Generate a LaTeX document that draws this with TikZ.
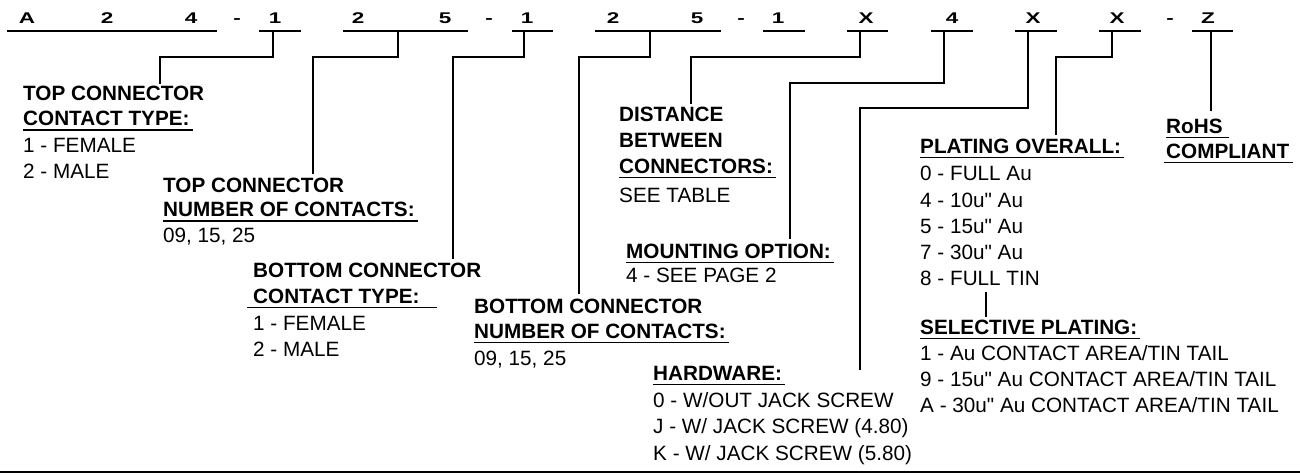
\documentclass[tikz,border=0pt]{standalone}
\usepackage{fontspec}
\setmainfont{Liberation Sans}[Ligatures=TeXOff]
\tikzset{
  lbl/.style={anchor=base west, inner sep=0pt, font=\fontsize{20.7}{26}\selectfont},
  hd/.style={anchor=base west, inner sep=0pt, font=\fontsize{20.7}{26}\selectfont\bfseries},
  code/.style={anchor=base, inner sep=0pt, font=\fontsize{15.5}{18}\selectfont\bfseries},
  ln/.style={line width=1.6pt, line cap=butt},
}
\newcommand\ulin[1]{\draw[ln] ([yshift=-4.5pt]#1.base west) -- ([yshift=-4.5pt,xshift=3pt]#1.base east);}
\newcommand\wide[1]{\scalebox{1.45}[1]{#1}}
\begin{document}
\begin{tikzpicture}[x=1pt,y=-1pt]
\useasboundingbox (0,0) rectangle (1300,474);

% ---- part number row
\node[code] (cA)  at (27,23.5)  {\wide{A}};
\node[code] (c2a) at (107,23.5) {\wide{2}};
\node[code] (c4a) at (191,23.5) {\wide{4}};
\node[code] (d1)  at (237,23.5) {\wide{-}};
\node[code] (c1a) at (275,23.5) {\wide{1}};
\node[code] (c2b) at (358,23.5) {\wide{2}};
\node[code] (c5a) at (445,23.5) {\wide{5}};
\node[code] (d2)  at (489,23.5) {\wide{-}};
\node[code] (c1b) at (527,23.5) {\wide{1}};
\node[code] (c2c) at (613,23.5) {\wide{2}};
\node[code] (c5b) at (697,23.5) {\wide{5}};
\node[code] (d3)  at (741,23.5) {\wide{-}};
\node[code] (c1c) at (778,23.5) {\wide{1}};
\node[code] (cXa) at (866,23.5) {\wide{X}};
\node[code] (c4b) at (952,23.5) {\wide{4}};
\node[code] (cXb) at (1033,23.5) {\wide{X}};
\node[code] (cXc) at (1117,23.5) {\wide{X}};
\node[code] (d4)  at (1170,23.5) {\wide{-}};
\node[code] (cZ)  at (1208,23.5) {\wide{Z}};

\draw[ln] (7,31) -- (217,31);
\draw[ln] (259,31) -- (301,31);
\draw[ln] (343,31) -- (468,31);
\draw[ln] (512,31) -- (553,31);
\draw[ln] (595,31) -- (721,31);
\draw[ln] (763,31) -- (805,31);
\draw[ln] (847,31) -- (888,31);
\draw[ln] (931,31) -- (973,31);
\draw[ln] (1015,31) -- (1057,31);
\draw[ln] (1099,31) -- (1141,31);
\draw[ln] (1192,31) -- (1233,31);

% ---- top connector contact type
\node[hd]  (tct1) at (23,100)   {TOP CONNECTOR};
\node[hd]  (tct2) at (23,125.5) {CONTACT TYPE:};
\node[lbl] (tct3) at (23,152.5) {1 - FEMALE};
\node[lbl] (tct4) at (23,178)   {2 - MALE};
\ulin{tct2}

% ---- top connector number of contacts
\node[hd]  (tnc1) at (163,192)   {TOP CONNECTOR};
\node[hd]  (tnc2) at (163,216.5) {NUMBER OF CONTACTS:};
\node[lbl] (tnc3) at (163,242)   {09, 15, 25};
\ulin{tnc2}

% ---- bottom connector contact type
\node[hd]  (bct1) at (253,277) {BOTTOM CONNECTOR};
\node[hd]  (bct2) at (253,303) {CONTACT TYPE:};
\node[lbl] (bct3) at (253,330) {1 - FEMALE};
\node[lbl] (bct4) at (253,356) {2 - MALE};
\draw[ln] ([yshift=-4.5pt,xshift=-6pt]bct2.base west) -- ([yshift=-4.5pt,xshift=17pt]bct2.base east);

% ---- bottom connector number of contacts
\node[hd]  (bnc1) at (474,313) {BOTTOM CONNECTOR};
\node[hd]  (bnc2) at (474,338) {NUMBER OF CONTACTS:};
\node[lbl] (bnc3) at (474,365) {09, 15, 25};
\ulin{bnc2}

% ---- distance
\node[hd]  (dst1) at (619,121) {DISTANCE};
\node[hd]  (dst2) at (619,147) {BETWEEN};
\node[hd]  (dst3) at (619,173) {CONNECTORS:};
\node[lbl] (dst4) at (619,202) {SEE TABLE};
\ulin{dst3}

% ---- mounting option
\node[hd]  (mnt1) at (626,258) {MOUNTING OPTION:};
\node[lbl] (mnt2) at (626,282) {4 - SEE PAGE 2};
\ulin{mnt1}

% ---- hardware
\node[hd]  (hw1) at (653,380) {HARDWARE:};
\node[lbl] (hw2) at (653,407) {0 - W/OUT JACK SCREW};
\node[lbl] (hw3) at (653,433) {J - W/ JACK SCREW (4.80)};
\node[lbl] (hw4) at (653,460) {K - W/ JACK SCREW (5.80)};
\ulin{hw1}

% ---- plating overall
\node[hd]  (pl1) at (920,153) {PLATING OVERALL:};
\node[lbl] (pl2) at (920,180) {0 - FULL Au};
\node[lbl] (pl3) at (920,207) {4 - 10u" Au};
\node[lbl] (pl4) at (920,233) {5 - 15u" Au};
\node[lbl] (pl5) at (920,259) {7 - 30u" Au};
\node[lbl] (pl6) at (920,285) {8 - FULL TIN};
\ulin{pl1}

% ---- selective plating
\node[hd]  (sp1) at (920,334) {SELECTIVE PLATING:};
\node[lbl] (sp2) at (920,360) {1 - Au CONTACT AREA/TIN TAIL};
\node[lbl] (sp3) at (920,386) {9 - 15u" Au CONTACT AREA/TIN TAIL};
\node[lbl] (sp4) at (920,412) {A - 30u" Au CONTACT AREA/TIN TAIL};
\ulin{sp1}

% ---- RoHS
\node[hd] (ro1) at (1166,133) {RoHS};
\node[hd] (ro2) at (1166,158) {COMPLIANT};
\draw[ln] ([yshift=-4.5pt]ro1.base west) -- ([yshift=-4.5pt,xshift=6pt]ro1.base east);
\draw[ln] ([yshift=-4.5pt,xshift=-2pt]ro2.base west) -- ([yshift=-4.5pt,xshift=4pt]ro2.base east);

% ---- connectors
\coordinate (s1) at (273,31);  \coordinate (e1) at (160,84);
\coordinate (s2) at (398,31);  \coordinate (e2) at (313,174);
\coordinate (s3) at (524,31);  \coordinate (e3) at (453,259);
\coordinate (s4) at (650,31);  \coordinate (e4) at (579,294);
\coordinate (s5) at (860,31);  \coordinate (e5) at (691,104);
\coordinate (s6) at (944,31);  \coordinate (e6) at (790,239);
\coordinate (s7) at (1028,31); \coordinate (e7) at (860,370);
\coordinate (s8) at (1112,31); \coordinate (e8) at (1056,135);
\coordinate (s9) at (1211,31); \coordinate (e9) at (1211,111);
\coordinate (s10) at (986,292); \coordinate (e10) at (986,317);

\draw[ln] (s1) -- (273,57) -- (160,57) -- (e1);
\draw[ln] (s2) -- (398,57) -- (313,57) -- (e2);
\draw[ln] (s3) -- (524,57) -- (453,57) -- (e3);
\draw[ln] (s4) -- (650,57) -- (579,57) -- (e4);
\draw[ln] (s5) -- (860,57) -- (691,57) -- (e5);
\draw[ln] (s6) -- (944,83) -- (790,83) -- (e6);
\draw[ln] (s7) -- (1028,108) -- (860,108) -- (e7);
\draw[ln] (s8) -- (1112,57) -- (1056,57) -- (e8);
\draw[ln] (s9) -- (e9);
\draw[ln] (s10) -- (e10);

% ---- bottom rule
\coordinate (bl) at (0,472); \coordinate (br) at (1300,472);
\draw[ln] (bl) -- (br);
\end{tikzpicture}
\end{document}
